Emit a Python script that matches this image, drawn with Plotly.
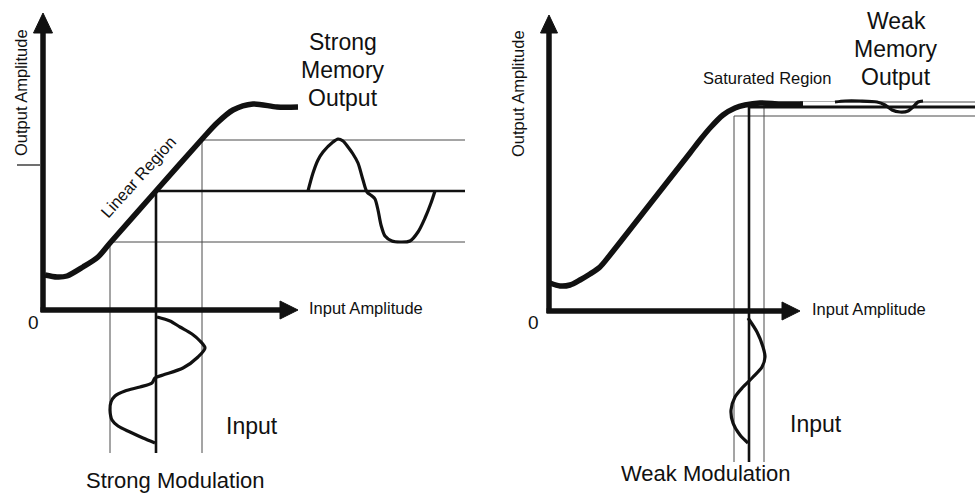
import plotly.graph_objects as go

W, H = 975, 493
FONT = "Liberation Sans, Arial, Helvetica, sans-serif"
INK = "#111111"
THIN = "#4a4a4a"

# ---------------- Left panel: strong memory (panel units, origin at axes corner) -------------
strong_transfer_in = [2, 14, 24, 40, 55, 67, 112, 160, 174, 190, 210, 234, 255]
strong_transfer_out = [35, 33, 34, 43, 53, 67, 118, 172, 187, 200, 206, 203, 203]

strong_input_dev = [114, 127, 137, 149, 157, 162, 155, 140, 120, 112, 109, 97, 82, 72, 68, 67, 69, 75, 87, 100, 112]
strong_input_time = [-7, -11, -17, -24, -31, -38, -47, -58, -65, -68, -73, -77, -81, -86, -92, -100, -110, -116, -122, -128, -133]

strong_output_time = [265, 270, 275, 280, 290, 295, 300, 305, 310, 315, 320, 324, 329, 332, 335, 338, 342, 349, 357, 367, 375, 382, 388, 392]
strong_output_amp = [119, 137, 150, 158, 168, 171, 169, 163, 156, 147, 130, 118, 114, 111, 100, 85, 74, 69, 68, 69, 78, 92, 107, 119]

strong_bias = (113, 119)          # operating point (input, output)
strong_in_swing = (67, 159)       # input min / max
strong_out_swing = (68, 170)      # output min / max
strong_guide_end = 422
strong_guide_bottom = -143

# ---------------- Right panel: weak memory -------------
weak_transfer_in = [1, 11, 21, 31, 41, 51, 61, 101, 141, 151, 161, 174, 186, 196, 211, 231, 254]
weak_transfer_out = [28, 25, 26, 31, 37, 44, 56, 107, 158, 171, 183, 196, 203, 206, 208, 207, 207]

weak_input_dev = [199, 208, 214, 216, 213, 204, 194, 186, 182, 184, 191, 199]
weak_input_time = [-7, -21, -36, -46, -56, -66, -76, -86, -99, -112, -124, -132]

weak_output_time = [286, 296, 311, 328, 336, 343, 351, 359, 365, 369, 374]
weak_output_amp = [209, 210, 210, 209, 206, 201, 199, 200, 205, 209, 210]

weak_bias = (200, 204)
weak_in_swing = (185, 215)
weak_out_swing = (195, 209)
weak_guide_end = 426
weak_guide_bottom = -151

left_origin = (43, 310)
right_origin = (549, 311)

fig = go.Figure()


def line(x, y, ax, width, color=INK, shape="linear"):
    fig.add_trace(go.Scatter(
        x=x, y=y, mode="lines", xaxis=ax[0], yaxis=ax[1],
        line=dict(color=color, width=width, shape=shape, smoothing=0.8 if shape == "spline" else None),
        hoverinfo="skip", showlegend=False))


def tri(x, y, ax):
    fig.add_trace(go.Scatter(
        x=x + [x[0]], y=y + [y[0]], mode="lines", fill="toself", fillcolor=INK,
        xaxis=ax[0], yaxis=ax[1], line=dict(color=INK, width=1),
        hoverinfo="skip", showlegend=False))


def text(t, x, y, ax, size, angle=0, xanchor="center"):
    fig.add_annotation(text=t, x=x, y=y, xref=ax[0], yref=ax[1], showarrow=False,
                       textangle=angle, xanchor=xanchor, yanchor="middle",
                       font=dict(family=FONT, size=size, color=INK))


L = ("x", "y")
R = ("x2", "y2")

# ---- left panel ----
line([strong_in_swing[1], strong_guide_end], [strong_out_swing[1], strong_out_swing[1]], L, 1, THIN)
line([strong_in_swing[0], strong_guide_end], [strong_out_swing[0], strong_out_swing[0]], L, 1, THIN)
line([strong_in_swing[0], strong_in_swing[0]], [strong_out_swing[0], strong_guide_bottom], L, 1, THIN)
line([strong_in_swing[1], strong_in_swing[1]], [strong_out_swing[1], strong_guide_bottom], L, 1, THIN)
line([strong_bias[0], strong_guide_end], [strong_bias[1], strong_bias[1]], L, 2.6)
line([strong_bias[0], strong_bias[0]], [strong_bias[1], strong_guide_bottom], L, 2.6)
line([0, 0], [-2, 279], L, 5.5)
line([-2.5, 238], [0, 0], L, 5.5)
tri([-9.5, 9.5, 0], [277, 277, 297], L)
tri([237, 237, 255], [9, -9, 0], L)
line(strong_transfer_in, strong_transfer_out, L, 5.5, shape="spline")
line(strong_input_dev, strong_input_time, L, 3.2, shape="spline")
line(strong_output_time, strong_output_amp, L, 3.2, shape="spline")
line([-26, -3], [145, 145], L, 1.2)

# ---- right panel ----
line([weak_in_swing[1] + 36, weak_guide_end], [weak_out_swing[1], weak_out_swing[1]], R, 1, THIN)
line([weak_in_swing[0], weak_guide_end], [weak_out_swing[0], weak_out_swing[0]], R, 1, THIN)
line([weak_in_swing[0], weak_in_swing[0]], [weak_out_swing[0], weak_guide_bottom], R, 1, THIN)
line([weak_in_swing[1], weak_in_swing[1]], [weak_out_swing[1] - 1, weak_guide_bottom], R, 1, THIN)
line([weak_bias[0], weak_guide_end], [weak_bias[1], weak_bias[1]], R, 3.2)
line([weak_bias[0], weak_bias[0]], [weak_transfer_out[-1], weak_guide_bottom], R, 2.6)
line([0, 0], [-2, 280], R, 5.5)
line([-2.5, 235], [0, 0], R, 5.5)
tri([-8.5, 8.5, 0], [278, 278, 296], R)
tri([233, 233, 251], [9, -9, 0], R)
line(weak_transfer_in, weak_transfer_out, R, 5.5, shape="spline")
line([254, 286], [208, 208], R, 2.2, color="white")
line(weak_input_dev, weak_input_time, R, 3.2, shape="spline")
line(weak_output_time, weak_output_amp, R, 3.2, shape="spline")

# ---------------- Text ----------------
text("Output Amplitude", -22, 217, L, 16.5, angle=-90)
text("0", -10, -12, L, 19)
text("Input Amplitude", 264, 2, L, 16.5, xanchor="left")
text("Linear Region", 95, 133, L, 16.5, angle=-48)
text("Strong", 300, 268, L, 23)
text("Memory", 300, 240, L, 23)
text("Output", 300, 212, L, 23)
text("Input", 209, -116, L, 23)
text("Strong Modulation", 132, -170, L, 22)

text("Output Amplitude", -31, 217, R, 16.5, angle=-90)
text("0", -16, -11, R, 19)
text("Input Amplitude", 261, 2, R, 16.5, xanchor="left")
text("Saturated Region", 218, 233, R, 16.5)
text("Weak", 347, 290, R, 23)
text("Memory", 347, 262, R, 23)
text("Output", 347, 234, R, 23)
text("Input", 267, -113, R, 23)
text("Weak Modulation", 157, -162, R, 22)

ax_common = dict(visible=False, showgrid=False, zeroline=False, fixedrange=True)
fig.update_layout(
    width=W, height=H, margin=dict(l=0, r=0, t=0, b=0),
    paper_bgcolor="white", plot_bgcolor="white",
    xaxis=dict(range=[-left_origin[0], W - left_origin[0]], domain=[0, 1], **ax_common),
    yaxis=dict(range=[-(H - left_origin[1]), left_origin[1]], domain=[0, 1], **ax_common),
    xaxis2=dict(range=[-right_origin[0], W - right_origin[0]], overlaying="x", domain=[0, 1], **ax_common),
    yaxis2=dict(range=[-(H - right_origin[1]), right_origin[1]], overlaying="y", anchor="x2", **ax_common),
    showlegend=False,
)

fig.write_html("out.html", config={"displayModeBar": False},
               post_script="document.body.style.margin='0';document.body.style.overflow='hidden';")
